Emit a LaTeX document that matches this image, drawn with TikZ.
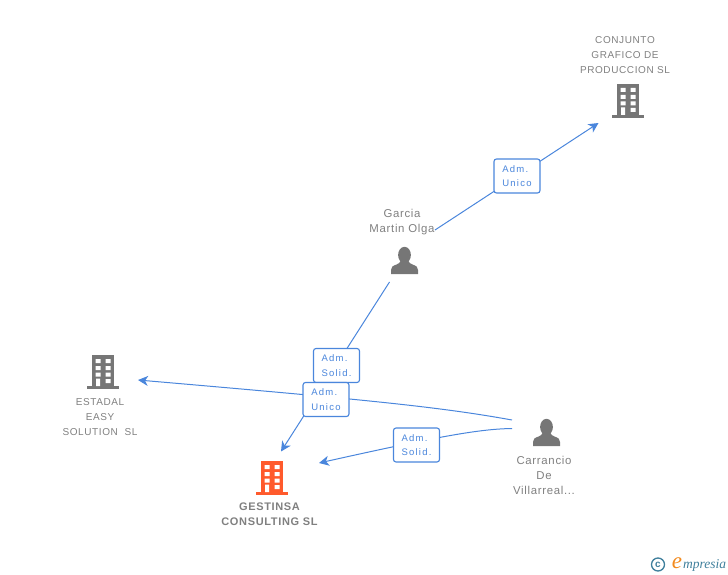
\documentclass[tikz,border=0pt]{standalone}
\usepackage{xcolor}
\usepackage{fontspec}
\setmainfont{Liberation Sans}
\newfontfamily\spaced[LetterSpace=6]{Liberation Sans}
\newfontfamily\wide[LetterSpace=13]{Liberation Sans}
\newfontfamily\logofont{Liberation Serif}
\usetikzlibrary{arrows.meta}
\definecolor{linkblue}{HTML}{4A86DC}
\definecolor{namegray}{HTML}{808080}
\definecolor{icongray}{HTML}{767676}
\definecolor{firmred}{HTML}{FF5A2C}
\definecolor{logoblue}{HTML}{3F7F9C}
\definecolor{logoorange}{HTML}{F28A1E}

\begin{document}
\begin{tikzpicture}[x=1pt,y=-1pt]
      \tikzstyle{link}=[linkblue, line width=1pt];
      \tikzstyle{linkend}=[link, -{Stealth[length=10pt,width=10pt,inset=3pt]}];
      \tikzstyle{role}=[draw=linkblue, line width=1.1pt, fill=white, rounded corners=2.5pt,
        minimum width=46pt, minimum height=34pt, inner sep=0pt, align=left, text=linkblue,
        font=\wide\fontsize{9.5}{14.5}\selectfont];
      \tikzstyle{nametext}=[inner sep=0pt, align=center, text=namegray,
        font=\spaced\fontsize{10}{15}\selectfont];
      \tikzstyle{mixedtext}=[nametext, font=\spaced\fontsize{11.4}{15}\selectfont];
      \tikzset{
        building/.pic={
          \fill (-11,-34) rectangle (11,-3);
          \fill (-16,-3) rectangle (16,0);
          \fill[white] (-7.5,-30) rectangle (-2.5,-26) (2.5,-30) rectangle (7.5,-26)
            (-7.5,-23) rectangle (-2.5,-19) (2.5,-23) rectangle (7.5,-19)
            (-7.5,-16.5) rectangle (-2.5,-12.5) (2.5,-16.5) rectangle (7.5,-12.5)
            (-7,-10.5) rectangle (-3,-3) (2.5,-10) rectangle (7.5,-6);
        },
        person/.pic={
          \fill (0,-19) circle (6.4 and 8.2);
          \fill (-13.5,0) -- (-13.5,-4) .. controls (-13.5,-7) and (-12,-8) .. (-8,-9.5)
            .. controls (-6,-10.3) and (-4.5,-11) .. (-4,-13) -- (4,-13)
            .. controls (4.5,-11) and (6,-10.3) .. (8,-9.5)
            .. controls (12,-8) and (13.5,-7) .. (13.5,-4) -- (13.5,0) -- cycle;
        }
      }
      \useasboundingbox (0,0) rectangle (728,575);

      % icons
      \pic[icongray] at (628,118) {building};
      \pic[icongray] at (103,389) {building};
      \pic[firmred] at (272,495) {building};
      \pic[icongray] at (404.5,274) {person};
      \pic[icongray] at (546.5,446) {person};

      % names
      \node[nametext] (conjunto) at (625,55) {CONJUNTO\\GRAFICO DE\\PRODUCCION SL};
      \node[mixedtext] (garcia) at (402,222) {Garcia\\Martin Olga};
      \node[nametext] (estadal) at (100,417) {ESTADAL\\EASY\\SOLUTION\ \ SL};
      \node[mixedtext] (carrancio) at (544,475) {Carrancio\\De\\Villarreal...};
      \node[nametext, font=\spaced\bfseries\fontsize{11}{14.5}\selectfont] (gestinsa) at (269.5,514)
        {GESTINSA\\CONSULTING SL};

      % ends of the links
      \coordinate (garciaright) at (435,230);
      \coordinate (garciadown) at (389.5,282);
      \coordinate (carrancioup) at (512,420);
      \coordinate (carranciomid) at (512,428.5);
      \coordinate (conjuntoin) at (598.5,123);
      \coordinate (estadalin) at (138,380);
      \coordinate (gestinsatop) at (281,451.5);
      \coordinate (gestinsaside) at (319,463);

      % links, the role boxes sit on top of them
      \draw[linkend] (garciaright) -- (conjuntoin);
      \draw[linkend] (garciadown) -- (gestinsatop);
      \draw[linkend] (carrancioup) .. controls (440,407) and (370,400) .. (estadalin);
      \draw[linkend] (carranciomid) .. controls (480,429) and (440,436) .. (gestinsaside);

      \node[role] (unicotop) at (517,176) {Adm.\\Unico};
      \node[role] (solidleft) at (336.5,365.5) {Adm.\\Solid.};
      \node[role] (unicolow) at (326,399.5) {Adm.\\Unico};
      \node[role] (solidright) at (416.5,445) {Adm.\\Solid.};

      % logo
      \node[draw=logoblue, line width=1.3pt, circle, minimum size=13pt, inner sep=0pt,
        text=logoblue, font=\bfseries\fontsize{10}{10}\selectfont] (copyright) at (658,564.5) {c};
      \node[inner sep=0pt, text=logoorange, font=\logofont\itshape\fontsize{23}{23}\selectfont]
        (logoe) at (677,563) {e};
      \node[inner sep=0pt, anchor=base west, text=logoblue,
        font=\logofont\itshape\fontsize{13.5}{13.5}\selectfont] (logoname) at (683,568) {mpresia};
\end{tikzpicture}
\end{document}
